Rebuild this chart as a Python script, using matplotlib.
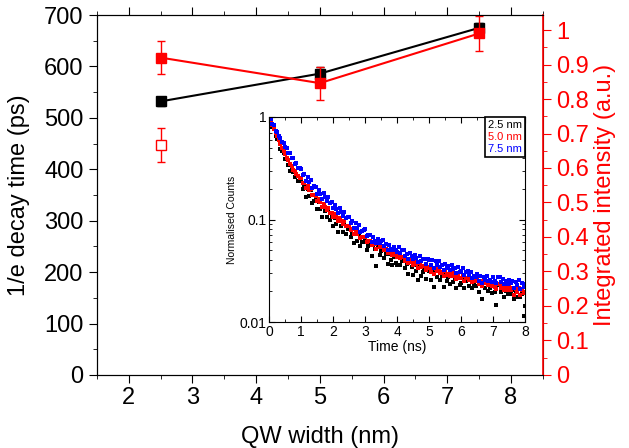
import numpy as np
import matplotlib
matplotlib.use('Agg')
import matplotlib.pyplot as plt
from matplotlib.ticker import MultipleLocator, LogLocator, NullFormatter, FixedLocator

plt.rcParams['font.family'] = ['Liberation Sans', 'DejaVu Sans']

# main panel
qw_width = [2.5, 5.0, 7.5]
decay_time = [532, 586, 675]
decay_err = [8, 12, 10]
intensity = [0.92, 0.846, 0.99]
intensity_err = [0.048, 0.048, 0.05]
open_x = [2.5]
open_intensity = [0.667]
open_err = [0.049]

# inset: normalised counts x1000, t = 0 .. 8 ns in 0.05 ns steps
t_step = 0.05
black_counts = [
    1000, 930, 800, 770, 650, 615, 590, 490, 470, 445, 385, 385, 340, 300, 310, 290, 262, 270, 240, 238,
    250, 200, 211, 166, 200, 168, 192, 144, 152, 157, 126, 148, 128, 105, 134, 121, 106, 124, 100, 107,
    87, 104, 91, 76, 97, 86, 75, 90, 73, 80, 83, 68, 73, 59, 72, 62, 72, 55, 60, 61,
    65, 50, 55, 57, 44, 57, 52, 35, 55, 45, 49, 51, 42, 46, 37, 46, 40, 36, 43, 38,
    36, 43.5, 35.7, 39, 41, 34, 37, 29.5, 38.5, 34.8, 28.9, 36.2, 31.7, 26, 36.5, 28.4, 31, 32.6, 26.5, 32.3,
    31.8, 25.8, 31.5, 21.8, 32, 27.6, 32.1, 25.7, 27.9, 21.8, 29.7, 25.1, 27.5, 23.5, 29.2, 24.5, 26.1, 21.3, 27, 23.1,
    24, 27.3, 21.6, 25.1, 26.1, 22.6, 26.9, 21.5, 23.6, 22.5, 25.5, 19.6, 23.7, 16.8, 23.8, 21.6, 24.5, 20.1, 21.7, 19.4,
    22.6, 19.6, 14.8, 22.8, 23.6, 19.7, 21.7, 17.7, 20.3, 18.6, 21.7, 19, 20.7, 16.7, 19.9, 17.5, 21.4, 17.6, 19, 11.5,
    14.5]
red_counts = [
    1000, 905, 835, 755, 705, 645, 598, 542, 503, 462, 432, 398, 377, 348, 332, 307, 296, 278, 266, 252,
    255, 228, 227, 202, 211, 193, 197, 173, 172, 169, 152, 159, 147, 133, 142, 132, 123, 129, 117, 117,
    106, 112, 105, 97, 104, 97, 91, 96, 86, 87, 86, 79, 80, 72, 77, 72, 75, 66, 67, 67,
    67, 60, 62, 62, 56, 61, 58, 52, 59, 54, 55, 55, 50, 52, 47, 50, 48, 45, 47, 45,
    42.7, 45.6, 41.9, 43, 43.3, 39.8, 40.8, 37.4, 40.8, 38.6, 36.1, 38.6, 36.6, 33.9, 37.8, 34.1, 35, 35.2, 32.3, 34.5,
    33.7, 31.1, 33.4, 29.5, 33.1, 31.2, 32.8, 30, 30.6, 28.2, 31.2, 29.1, 29.7, 27.9, 30.2, 28.2, 28.5, 26.2, 28.4, 26.8,
    26.7, 27.9, 25.3, 26.7, 27, 25.5, 27.1, 24.6, 25.4, 24.9, 26, 23.6, 25.1, 22.4, 24.9, 23.8, 25, 22.9, 23.4, 22.3,
    23.5, 22.1, 20.8, 23.3, 23.3, 21.6, 22.5, 20.5, 21.6, 20.6, 21.8, 20.7, 21.4, 18.2, 20.8, 19.7, 21.4, 18.3, 20.4, 19.1,
    19.5]
blue_counts = [
    1000, 955, 860, 825, 735, 712, 650, 620, 565, 552, 505, 500, 445, 445, 395, 398, 350, 355, 318, 320,
    313, 271, 275, 235, 258, 230, 244, 205, 210, 208, 179, 196, 178, 160, 180, 167, 152, 167, 146, 149,
    129, 140, 127, 115, 129, 119, 108, 119, 103, 106, 106, 93, 96, 83, 92, 83, 89, 75, 78, 79,
    81, 68.6, 71, 71, 61, 68, 62, 59.5, 64.7, 59.3, 61.8, 62.6, 54.7, 57.1, 50.6, 56.7, 51.9, 49.9, 54.1, 51,
    48.5, 53.5, 47.5, 49.9, 50.8, 43.7, 46.4, 41.4, 47.2, 44, 40.9, 45.2, 41.7, 38.2, 44.4, 39.4, 40.9, 41.2, 37.1, 41.3,
    40.6, 35.9, 40.1, 34, 39.6, 36.3, 39.2, 34.4, 36.2, 32.2, 37.1, 33.7, 35.1, 32.1, 36.2, 32.8, 33.5, 30.3, 34.2, 31,
    31.4, 33.4, 28.8, 31.1, 31.5, 28.6, 31.1, 27, 28.3, 27.3, 29.2, 25.4, 27.9, 24.2, 27.8, 26, 28.1, 25.1, 25.9, 24.4,
    27.3, 25.2, 23.8, 27.5, 27.5, 24.7, 26.3, 23.3, 25.4, 23.7, 26, 23.9, 25.3, 21.3, 24.6, 22.8, 25.5, 21.2, 23.9, 21.8,
    23.5]
inset_labels = ['2.5 nm', '5.0 nm', '7.5 nm']
inset_colors = ['black', 'red', 'blue']

fs = 17
fig = plt.figure(figsize=(6.29, 4.48), dpi=100)
ax = fig.add_axes([0.154, 0.163, 0.709, 0.8035])
ax2 = ax.twinx()

ax.errorbar(qw_width, decay_time, yerr=decay_err, color='black', marker='s', ms=7,
            lw=1.5, capsize=3, elinewidth=1, capthick=1, zorder=3)
ax2.errorbar(qw_width, intensity, yerr=intensity_err, color='red', marker='s', ms=7,
             lw=1.5, capsize=3, elinewidth=1, capthick=1)
ax2.errorbar(open_x, open_intensity, yerr=open_err, color='red', marker='s', ms=7,
             mfc='white', mec='red', lw=0, capsize=3, elinewidth=1, capthick=1)

ax.set_xlim(1.5, 8.5)
ax.set_ylim(0, 700)
ax2.set_ylim(0, 1.0435)
ax.xaxis.set_major_locator(MultipleLocator(1))
ax.xaxis.set_minor_locator(MultipleLocator(0.5))
ax.yaxis.set_major_locator(MultipleLocator(100))
ax.yaxis.set_minor_locator(MultipleLocator(50))
ax2.yaxis.set_major_locator(FixedLocator(np.arange(0, 1.01, 0.1)))
ax2.yaxis.set_minor_locator(FixedLocator(np.arange(0.05, 1.04, 0.1)))
ax2.set_yticklabels(['0', '0.1', '0.2', '0.3', '0.4', '0.5', '0.6', '0.7', '0.8', '0.9', '1'])

ax.tick_params(axis='x', which='both', direction='out', labelsize=fs, top=True, pad=3)
ax.tick_params(axis='x', which='major', length=6)
ax.tick_params(axis='x', which='minor', length=3)
ax.tick_params(axis='y', which='both', direction='out', labelsize=fs, right=False)
ax.tick_params(axis='y', which='major', length=6)
ax.tick_params(axis='y', which='minor', length=3)
ax2.tick_params(axis='y', which='both', direction='out', colors='red', labelsize=fs)
ax2.tick_params(axis='y', which='major', length=6)
ax2.tick_params(axis='y', which='minor', length=3)
ax2.spines['right'].set_color('red')
ax2.spines['right'].set_linewidth(1.2)

ax.set_xlabel('QW width (nm)', fontsize=fs, labelpad=12)
ax.set_ylabel('1/e decay time (ps)', fontsize=fs, labelpad=10)
ax2.set_ylabel('Integrated intensity (a.u.)', fontsize=fs, color='red', labelpad=4)

# inset
axi = fig.add_axes([0.428, 0.281, 0.407, 0.458])
t = np.arange(len(black_counts)) * t_step
for counts, col, lab in zip([black_counts, red_counts, blue_counts], inset_colors, inset_labels):
    axi.plot(t, np.array(counts) / 1000., 's', color=col, ms=2.2, mew=0, label=lab)
axi.set_yscale('log')
axi.set_xlim(0, 8)
axi.set_ylim(0.01, 1)
axi.set_yticks([0.01, 0.1, 1])
axi.set_yticklabels(['0.01', '0.1', '1'])
axi.yaxis.set_minor_locator(LogLocator(base=10, subs=np.arange(2, 10)))
axi.yaxis.set_minor_formatter(NullFormatter())
axi.xaxis.set_major_locator(MultipleLocator(1))
axi.xaxis.set_minor_locator(MultipleLocator(0.5))
axi.tick_params(which='both', direction='in', top=True, right=True, labelsize=10, pad=2)
axi.tick_params(which='major', length=4)
axi.tick_params(which='minor', length=2)
axi.set_xlabel('Time (ns)', fontsize=10, labelpad=1)
axi.set_ylabel('Normalised Counts', fontsize=7.5, labelpad=2)

leg = axi.legend(loc='upper right', handlelength=0, handletextpad=0, fontsize=8,
                 fancybox=False, edgecolor='black', framealpha=1, borderaxespad=0,
                 borderpad=0.3, labelspacing=0.15)
leg.get_frame().set_linewidth(1.2)
for h in leg.legend_handles:
    h.set_visible(False)
for txt, col in zip(leg.get_texts(), inset_colors):
    txt.set_color(col)

fig.savefig('out.png', dpi=100)
